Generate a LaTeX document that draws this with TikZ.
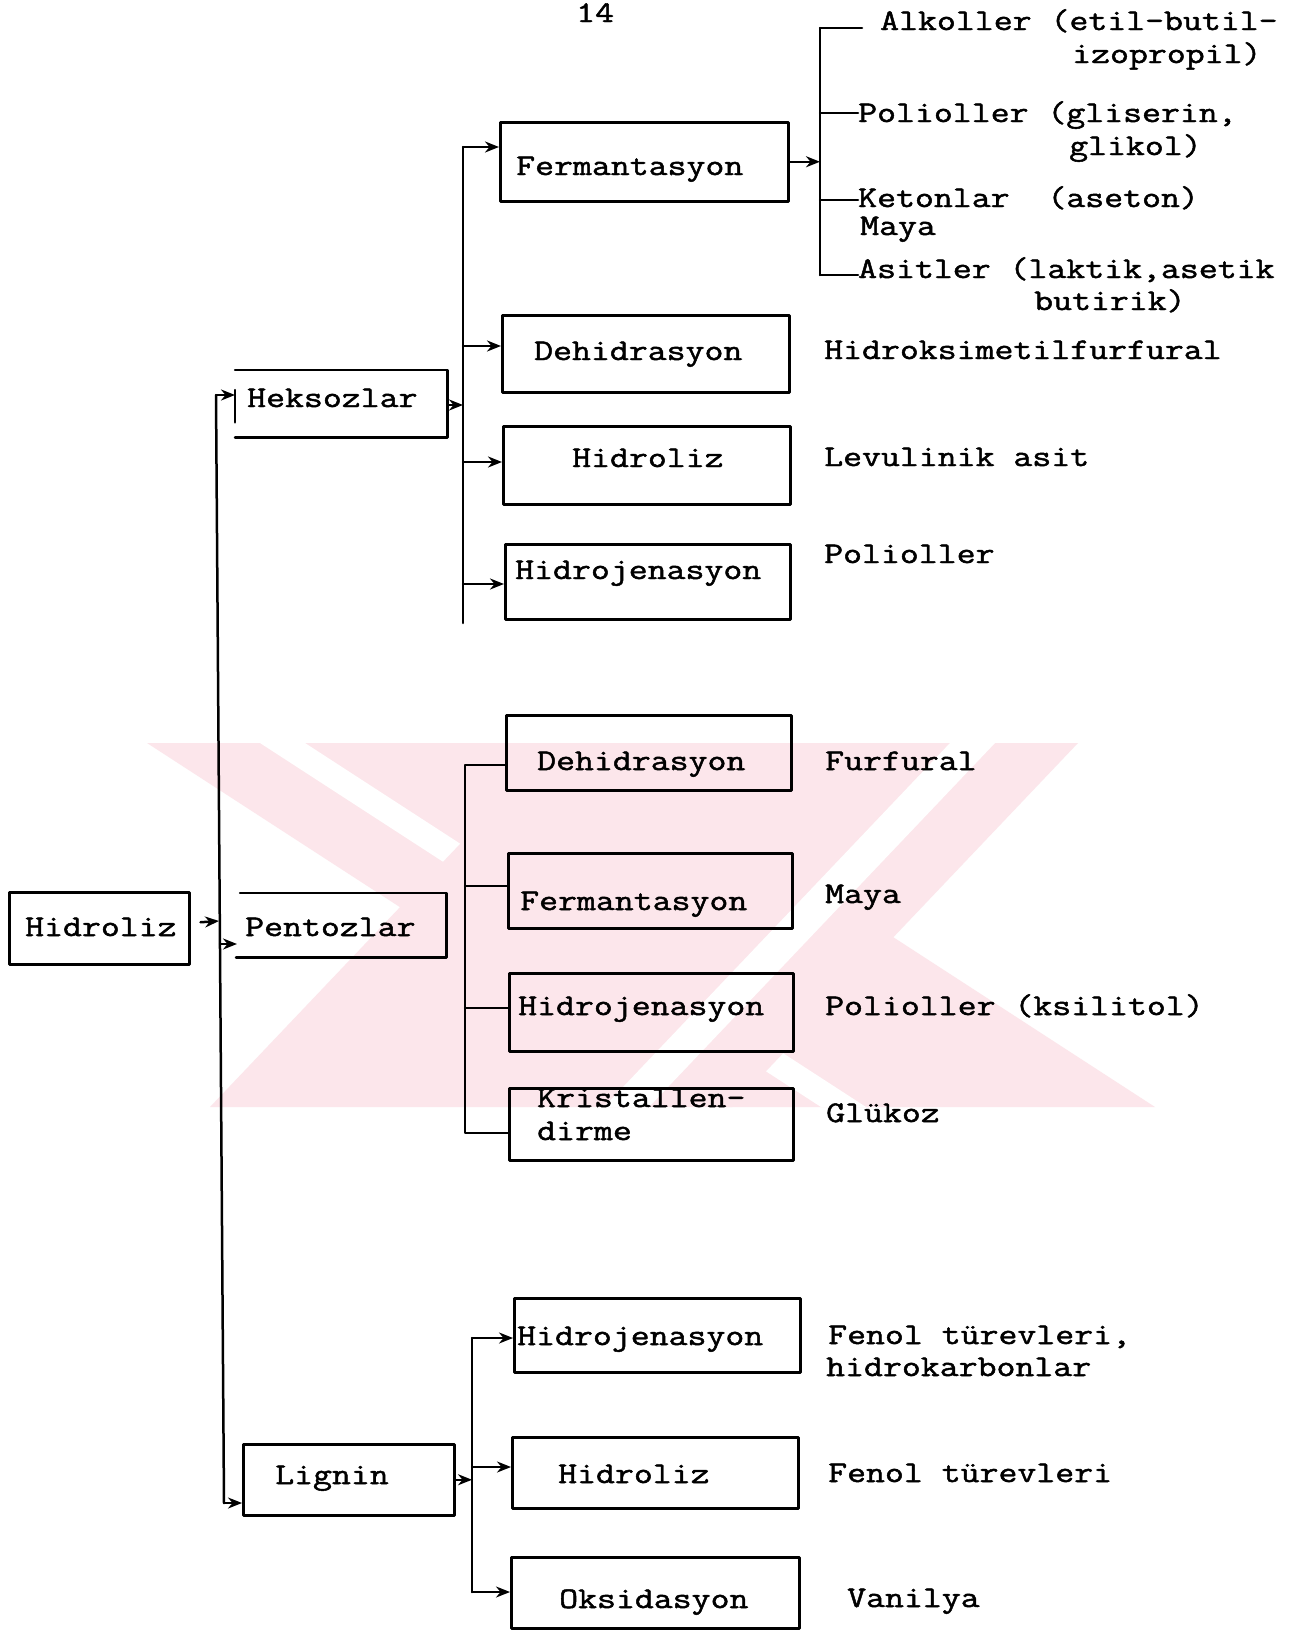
\documentclass[tikz,border=0pt]{standalone}
\usepackage{fontspec}
\newfontfamily\tw{Latin Modern Mono}[FakeBold=1.6, FakeStretch=1.225]
\usetikzlibrary{arrows.meta,calc}
\definecolor{wm}{RGB}{252,230,235}
\begin{document}
\begin{tikzpicture}[x=1pt,y=-1pt,
  ln/.style={line width=2.5pt, line cap=round, line join=round},
  arr/.style={ln,-{Stealth[length=14pt,width=11pt]}},
  box/.style={draw, ln, inner sep=0pt, anchor=north west},
  obox/.style={inner sep=0pt, anchor=north west},
  txt/.style={font=\tw\fontsize{30}{34}\selectfont, inner sep=0pt, anchor=base west},
]
\useasboundingbox (0,0) rectangle (1301,1630);
\fill[white] (0,0) rectangle (1301,1630);

% watermark
\fill[wm] (147,743) -- (594,743) -- (1155,1107) -- (708,1107) -- cycle;
\fill[white] (260,743) -- (305,743) -- (866,1107) -- (821,1107) -- cycle;
\fill[wm] (556,743) -- (1078,743) -- (732,1107) -- (210,1107) -- cycle;
\fill[white] (950,743) -- (995,743) -- (649,1107) -- (604,1107) -- cycle;

% boxes
\node[box, minimum width=180pt, minimum height=72pt] (hid) at (8,891) {};
\node[obox, minimum width=212pt, minimum height=67pt] (hek) at (235,370) {};
\node[obox, minimum width=206pt, minimum height=64pt] (pen) at (240,893) {};
\node[box, minimum width=211pt, minimum height=71pt] (lig) at (242,1443) {};
\node[box, minimum width=288pt, minimum height=79pt] (f1) at (499,121) {};
\node[box, minimum width=287pt, minimum height=77pt] (d1) at (501,314) {};
\node[box, minimum width=287pt, minimum height=78pt] (h1) at (502,425) {};
\node[box, minimum width=285pt, minimum height=75pt] (j1) at (504,543) {};
\node[box, minimum width=285pt, minimum height=75pt] (d2) at (505,714) {};
\node[box, minimum width=284pt, minimum height=75pt] (f2) at (507,852) {};
\node[box, minimum width=284pt, minimum height=78pt] (j2) at (508,972) {};
\node[box, minimum width=284pt, minimum height=72pt] (k2) at (508,1087) {};
\node[box, minimum width=286pt, minimum height=74pt] (j3) at (513,1297) {};
\node[box, minimum width=286pt, minimum height=71pt] (h3) at (511,1436) {};
\node[box, minimum width=288pt, minimum height=71pt] (o3) at (510,1556) {};

\draw[ln] (hek.north west) -- (hek.north east) -- (hek.south east) -- (hek.south west);
\draw[ln] ($(hek.north west)+(0,20)$) -- ($(hek.south west)+(0,-15)$);
\draw[ln] (pen.north west) -- (pen.north east) -- (pen.south east) -- ($(pen.south west)+(-4,0)$);

% box texts
\node[txt] (t14) at (576,22) {14};
\node[txt] (thid) at (25,936) {Hidroliz};
\node[txt] (thek) at (247,407) {Heksozlar};
\node[txt] (tpen) at (245,936) {Pentozlar};
\node[txt] (tlig) at (275,1484) {Lignin};
\node[txt] (tf1) at (516,175) {Fermantasyon};
\node[txt] (td1) at (534,360) {Dehidrasyon};
\node[txt] (th1) at (572,467) {Hidroliz};
\node[txt] (tj1) at (515,579) {Hidrojenasyon};
\node[txt] (td2) at (537,770) {Dehidrasyon};
\node[txt] (tf2) at (520,910) {Fermantasyon};
\node[txt] (tj2) at (518,1015) {Hidrojenasyon};
\node[txt] (tk2a) at (537,1107) {Kristallen-};
\node[txt] (tk2b) at (537,1140) {dirme};
\node[txt] (tj3) at (517,1345) {Hidrojenasyon};
\node[txt] (th3) at (558,1483) {Hidroliz};
\node[txt] (to3) at (559,1608) {Oksidasyon};

% product texts
\node[txt] (pAlk) at (880,30) {Alkoller (etil-butil-};
\node[txt] (pAlk2) at (1072,63) {izopropil)};
\node[txt] (pPol) at (858,122) {Polioller (gliserin,};
\node[txt] (pPol2) at (1069,155) {glikol)};
\node[txt] (pKet) at (858,207) {Ketonlar\ \ (aseton)};
\node[txt] (pMaya) at (860,235) {Maya};
\node[txt] (pAsi) at (858,278) {Asitler (laktik,asetik};
\node[txt] (pAsi2) at (1034,310) {butirik)};
\node[txt] (pHmf) at (824,359) {Hidroksimetilfurfural};
\node[txt] (pLev) at (824,466) {Levulinik asit};
\node[txt] (pPoli) at (824,563) {Polioller};
\node[txt] (pFur) at (825,770) {Furfural};
\node[txt] (pMaya2) at (825,903) {Maya};
\node[txt] (pKsi) at (825,1015) {Polioller (ksilitol)};
\node[txt] (pGlu) at (826,1122) {Glükoz};
\node[txt] (pFen) at (828,1344) {Fenol türevleri,};
\node[txt] (pFen2) at (826,1376) {hidrokarbonlar};
\node[txt] (pFen3) at (828,1482) {Fenol türevleri};
\node[txt] (pVan) at (847,1607) {Vanilya};

% main spine
\coordinate (sp1) at (216,395);
\coordinate (sp2) at (224,1503);
\coordinate (sj) at (219,921);
\coordinate (sp) at (220,944);
\draw[ln] (sp1) -- (sp2);
\draw[arr] (sp1) -- (sp1 -| hek.west);
\draw[arr] ($(hid.east)+(10,-6)$) -- (sj);
\draw[arr] (sp) -- ($(sp -| pen.west)+(-3,0)$);
\draw[arr] (sp2) -- (sp2 -| lig.west);

% Heksozlar branch
\coordinate (hb1) at (463,147);
\coordinate (hb2) at (463,623);
\coordinate (hbk) at (463,405);
\coordinate (hd1) at (463,346);
\coordinate (hh1) at (463,462);
\coordinate (hj1) at (463,584);
\draw[ln] (hb1) -- (hb2);
\draw[arr] (hbk -| hek.east) -- (hbk);
\draw[arr] (hb1) -- (hb1 -| f1.west);
\draw[arr] (hd1) -- (hd1 -| d1.west);
\draw[arr] (hh1) -- (hh1 -| h1.west);
\draw[arr] (hj1) -- (hj1 -| j1.west);

% Fermantasyon products
\coordinate (pb1) at (820,28);
\coordinate (pb2) at (820,275);
\coordinate (pbp) at (820,113);
\coordinate (pbk) at (820,200);
\draw[arr] (f1.east) -- (f1.east -| pb1);
\draw[ln] (pb1) -- (pb2);
\draw[ln] (pb1) -- ($(pb1 -| pAlk.west)+(-18,0)$);
\draw[ln] (pbp) -- (pbp -| pPol.west);
\draw[ln] (pbk) -- (pbk -| pKet.west);
\draw[ln] (pb2) -- (pb2 -| pAsi.west);

% Pentozlar branch
\coordinate (qb1) at (465,765);
\coordinate (qb2) at (465,1133);
\coordinate (qf) at (465,886);
\coordinate (qj) at (465,1008);
\draw[ln] (qb1 -| d2.west) -- (qb1) -- (qb2) -- (qb2 -| k2.west);
\draw[ln] (qf) -- (qf -| f2.west);
\draw[ln] (qj) -- (qj -| j2.west);

% Lignin branch
\coordinate (lb1) at (472,1338);
\coordinate (lb2) at (472,1592);
\coordinate (lh) at (472,1467);
\draw[arr] (lig.east) -- (lig.east -| lb1);
\draw[ln] (lb1) -- (lb2);
\draw[arr] (lb1) -- (lb1 -| j3.west);
\draw[arr] (lh) -- (lh -| h3.west);
\draw[arr] (lb2) -- (lb2 -| o3.west);
\end{tikzpicture}
\end{document}
